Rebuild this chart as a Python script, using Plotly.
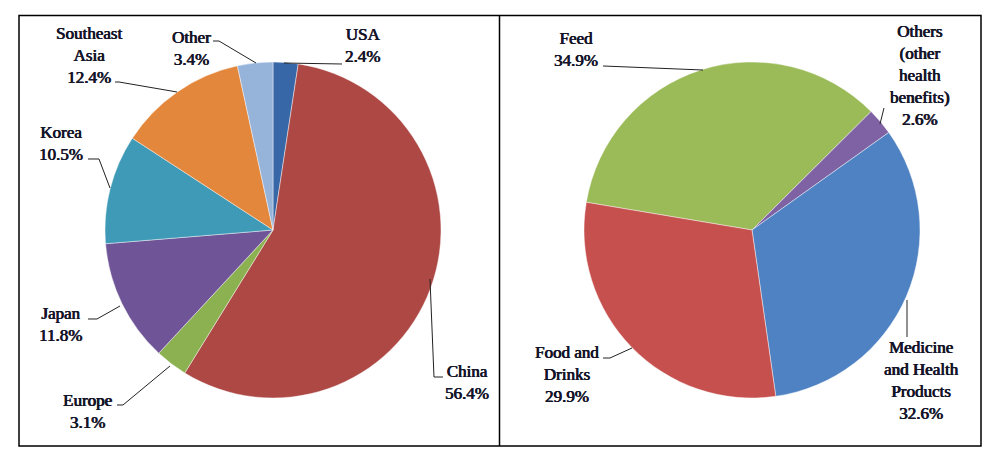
import plotly.graph_objects as go

W, H = 1002, 454

# ---- data ----
region_labels = ["USA", "China", "Europe", "Japan", "Korea", "Southeast Asia", "Other"]
region_values = [2.4, 56.4, 3.1, 11.8, 10.5, 12.4, 3.4]
region_colors = ["#3767A6", "#AD4845", "#8BB150", "#6F5597", "#3E9AB6", "#E3873D", "#96B3DA"]

use_labels = ["Feed", "Others (other health benefits)", "Medicine and Health Products", "Food and Drinks"]
use_values = [34.9, 2.6, 32.6, 29.9]
use_colors = ["#9BBB59", "#7F62A3", "#4F82C3", "#C6504D"]

region_text = {
    "USA": "USA<br>2.4%",
    "China": "China<br>56.4%",
    "Europe": "Europe<br>3.1%",
    "Japan": "Japan<br>11.8%",
    "Korea": "Korea<br>10.5%",
    "Southeast Asia": "Southeast<br>Asia<br>12.4%",
    "Other": "Other<br>3.4%",
}
use_text = {
    "Feed": "Feed<br>34.9%",
    "Others (other health benefits)": "Others<br>(other<br>health<br>benefits)<br>2.6%",
    "Medicine and Health Products": "Medicine<br>and Health<br>Products<br>32.6%",
    "Food and Drinks": "Food and<br>Drinks<br>29.9%",
}


def px(x):
    return x / W


def py(y):
    return 1 - y / H


def dom(cx, cy, r):
    return dict(x=[px(cx - r), px(cx + r)], y=[py(cy + r), py(cy - r)])


fig = go.Figure()
fig.add_trace(go.Pie(
    labels=region_labels, values=region_values, sort=False, direction="clockwise",
    rotation=0, textinfo="none", hoverinfo="label+percent",
    marker=dict(colors=region_colors, line=dict(color="rgba(255,255,255,0.55)", width=0.8)),
    domain=dom(273, 230, 168), showlegend=False,
))
fig.add_trace(go.Pie(
    labels=use_labels, values=use_values, sort=False, direction="clockwise",
    rotation=-80.5, textinfo="none", hoverinfo="label+percent",
    marker=dict(colors=use_colors, line=dict(color="rgba(255,255,255,0.55)", width=0.8)),
    domain=dom(752, 230, 168), showlegend=False,
))

label_pos = {
    "USA": (362, 45), "China": (467, 382), "Europe": (87, 411), "Japan": (60, 324),
    "Korea": (61, 143), "Southeast Asia": (89, 56), "Other": (191, 48),
    "Feed": (576, 49), "Others (other health benefits)": (919, 75),
    "Medicine and Health Products": (921, 380), "Food and Drinks": (567, 374),
}
leaders = [
    [(342, 64), (284, 63)],
    [(213, 41), (219, 41), (256, 63)],
    [(115, 82), (119, 82), (177, 92)],
    [(88, 159), (99, 159), (110, 188)],
    [(88, 319), (97, 319), (120, 306)],
    [(117, 405), (123, 405), (170, 366)],
    [(430, 279), (434, 377), (443, 377)],
    [(603, 66), (703, 70)],
    [(884, 108), (880, 124)],
    [(907, 300), (907, 337)],
    [(603, 358), (610, 358), (632, 348)],
]

C = "#15152a"
# Liberation Serif has no bold face here; emulate bold with a tight text shadow
label_font = dict(family="Liberation Serif", size=17, color=C, weight="normal",
                  shadow=f"0.6px 0 0 {C}, -0.2px 0 0 {C}")

annotations = []
for name, txt in list(region_text.items()) + list(use_text.items()):
    x, y = label_pos[name]
    annotations.append(dict(
        x=px(x), y=py(y), xref="paper", yref="paper", text=txt,
        showarrow=False, xanchor="center", yanchor="middle", align="center", font=label_font,
    ))

shapes = []
for pts in leaders:
    path = "M " + " L ".join(f"{px(a):.5f},{py(b):.5f}" for a, b in pts)
    shapes.append(dict(type="path", path=path, xref="paper", yref="paper",
                       line=dict(color="#222222", width=1)))
shapes.append(dict(type="rect", xref="paper", yref="paper", x0=px(19), x1=px(981),
                   y0=py(446), y1=py(15.5), line=dict(color="black", width=1.5)))
shapes.append(dict(type="line", xref="paper", yref="paper", x0=px(499.5), x1=px(499.5),
                   y0=py(446), y1=py(15.5), line=dict(color="black", width=1.5)))

fig.update_layout(
    width=W, height=H, margin=dict(l=0, r=0, t=0, b=0),
    paper_bgcolor="white", plot_bgcolor="white",
    annotations=annotations, shapes=shapes,
)

fig.write_html("out.html")
